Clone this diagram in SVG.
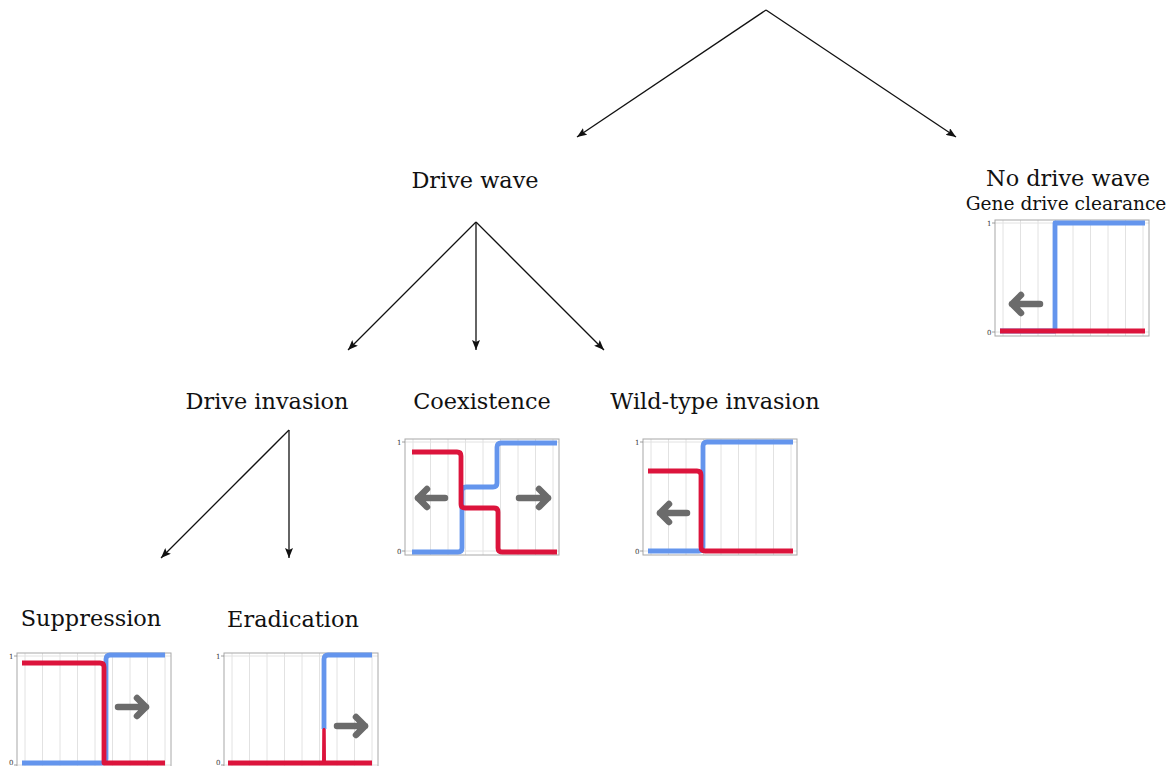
<svg xmlns="http://www.w3.org/2000/svg" xmlns:xlink="http://www.w3.org/1999/xlink" width="1172" height="766" viewBox="0 0 1172 766">
<style>
.lbl{font-family:"DejaVu Serif","Liberation Serif",serif;fill:#111;text-anchor:middle}
.big{font-size:22.4px}
.sub{font-size:18.6px}
.tick{font-family:"DejaVu Serif","Liberation Serif",serif;font-size:7px;fill:#333;text-anchor:end}
.conn{stroke:#111;stroke-width:1.3;fill:none}
.grid{stroke:#e2e2e2;stroke-width:1}
.frame{fill:none;stroke:#a8a8a8;stroke-width:1}
.tk{stroke:#888;stroke-width:0.8}
.blue{fill:none;stroke:#6495ED;stroke-width:4.8;stroke-linejoin:round;stroke-linecap:butt}
.red{fill:none;stroke:#DC143C;stroke-width:4.8;stroke-linejoin:round;stroke-linecap:butt}
.gar{fill:none;stroke:#6b6b6b;stroke-width:6.5;stroke-linecap:round;stroke-linejoin:round}
</style>
<defs>
<marker id="ah" viewBox="0 0 10 8" refX="10" refY="4" markerWidth="10" markerHeight="8" markerUnits="userSpaceOnUse" orient="auto">
<path d="M0,0 L10,4 L0,8 L2,4 Z" fill="#111"/>
</marker>
<g id="axes">
<line class="grid" x1="0" y1="3" x2="154" y2="3"/>
<line class="grid" x1="0" y1="112" x2="154" y2="112"/>
<line class="grid" x1="8" y1="0" x2="8" y2="116"/>
<line class="grid" x1="25.5" y1="0" x2="25.5" y2="116"/>
<line class="grid" x1="43" y1="0" x2="43" y2="116"/>
<line class="grid" x1="60.5" y1="0" x2="60.5" y2="116"/>
<line class="grid" x1="78" y1="0" x2="78" y2="116"/>
<line class="grid" x1="95.5" y1="0" x2="95.5" y2="116"/>
<line class="grid" x1="113" y1="0" x2="113" y2="116"/>
<line class="grid" x1="130.5" y1="0" x2="130.5" y2="116"/>
<line class="grid" x1="148" y1="0" x2="148" y2="116"/>
<rect class="frame" x="0" y="0" width="154" height="116"/>
<line class="tk" x1="-3" y1="3" x2="0" y2="3"/>
<line class="tk" x1="-3" y1="112" x2="0" y2="112"/>
</g>
</defs>
<rect width="1172" height="766" fill="#fff"/>

<g id="connectors">
<line class="conn" x1="766" y1="10" x2="577" y2="137" marker-end="url(#ah)"/>
<line class="conn" x1="766" y1="10" x2="956" y2="137" marker-end="url(#ah)"/>
<line class="conn" x1="476" y1="222" x2="348" y2="350" marker-end="url(#ah)"/>
<line class="conn" x1="476" y1="222" x2="476" y2="350" marker-end="url(#ah)"/>
<line class="conn" x1="476" y1="222" x2="604" y2="350" marker-end="url(#ah)"/>
<line class="conn" x1="289" y1="430" x2="161" y2="558" marker-end="url(#ah)"/>
<line class="conn" x1="289" y1="430" x2="289" y2="558" marker-end="url(#ah)"/>
</g>

<g id="drive-wave">
<text class="lbl big" x="475" y="188">Drive wave</text>
</g>

<g id="no-drive-wave">
<text class="lbl big" x="1068" y="186">No drive wave</text>
<text class="lbl sub" x="1066" y="210">Gene drive clearance</text>
<g transform="translate(995,220)">
<use xlink:href="#axes" href="#axes"/>
<text class="tick" x="-3.5" y="5.5">1</text>
<text class="tick" x="-3.5" y="114.5">0</text>
<path class="blue" d="M5 111 L60 111 L60 3 L150 3"/>
<path class="red" d="M5 111 L150 111"/>
<path class="gar" d="M45 84 L17 84 M26 75 L17 84 L26 93"/>
</g>
</g>

<g id="drive-invasion">
<text class="lbl big" x="267" y="409">Drive invasion</text>
</g>

<g id="coexistence">
<text class="lbl big" x="482" y="409">Coexistence</text>
<g transform="translate(405,439)">
<use xlink:href="#axes" href="#axes"/>
<text class="tick" x="-3.5" y="5.5">1</text>
<text class="tick" x="-3.5" y="114.5">0</text>
<path class="blue" d="M7 113 L53 113 Q57 113 57 109 L57 52 Q57 48 61 48 L88 48 Q92 48 92 44 L92 8 Q92 4 96 4 L152 4"/>
<path class="red" d="M7 13 L52 13 Q56 13 56 17 L56 65 Q56 69 60 69 L89 69 Q93 69 93 73 L93 109 Q93 113 97 113 L152 113"/>
<path class="gar" d="M40 59 L13 59 M22 50 L13 59 L22 68"/>
<path class="gar" d="M114 59 L143 59 M134 50 L143 59 L134 68"/>
</g>
</g>

<g id="wild-type-invasion">
<text class="lbl big" x="715" y="409">Wild-type invasion</text>
<g transform="translate(643,439)">
<use xlink:href="#axes" href="#axes"/>
<text class="tick" x="-3.5" y="5.5">1</text>
<text class="tick" x="-3.5" y="114.5">0</text>
<path class="blue" d="M5 112 L56 112 Q60 112 60 108 L60 7 Q60 3 64 3 L150 3"/>
<path class="red" d="M5 32 L54 32 Q58 32 58 36 L58 108 Q58 112 62 112 L150 112"/>
<path class="gar" d="M44 74 L17 74 M26 65 L17 74 L26 83"/>
</g>
</g>

<g id="suppression">
<text class="lbl big" x="91" y="626">Suppression</text>
<g transform="translate(17,653)">
<use xlink:href="#axes" href="#axes"/>
<text class="tick" x="-3.5" y="5.5">1</text>
<text class="tick" x="-3.5" y="111.5">0</text>
<path class="blue" d="M5 110 L85 110 Q89 110 89 106 L89 6 Q89 2 93 2 L148 2"/>
<path class="red" d="M5 10 L83 10 Q87 10 87 14 L87 110 L148 110"/>
<path class="gar" d="M101 54 L129 54 M120 45 L129 54 L120 63"/>
</g>
</g>

<g id="eradication">
<text class="lbl big" x="293" y="627">Eradication</text>
<g transform="translate(224,653)">
<use xlink:href="#axes" href="#axes"/>
<text class="tick" x="-3.5" y="5.5">1</text>
<text class="tick" x="-3.5" y="111.5">0</text>
<path class="blue" d="M100 76 L100 6 Q100 2 104 2 L148 2"/>
<path class="red" d="M4 110 L148 110"/>
<path d="M98 110 L102 110 L101 75 L99 75 Z" fill="#DC143C"/>
<path class="red" d="M100 108 L100 76" style="stroke-width:3.5"/>
<path class="gar" d="M113 73 L141 73 M132 64 L141 73 L132 82"/>
</g>
</g>
</svg>
